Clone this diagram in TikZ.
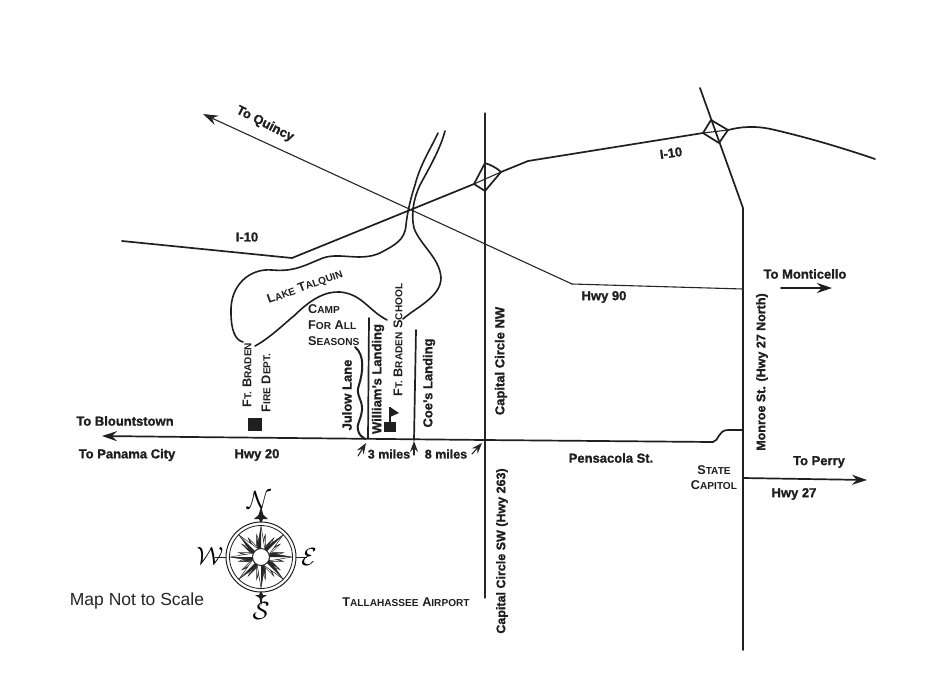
\documentclass[tikz,border=0pt]{standalone}
\usepackage{fontspec}
\setmainfont{Liberation Sans}[FakeBold=1.2]
\newfontfamily\thinfont{Liberation Sans}
\usetikzlibrary{arrows.meta}
\newcommand{\SCap}[2]{{\thinfont\fontsize{12.7}{14}\selectfont #1}{\thinfont\fontsize{10.1}{12}\selectfont #2}}
\tikzset{
  x=1pt,y=-1pt,
  road/.style={draw=black!88,line width=1.7pt,line cap=round,line join=round},
  thinroad/.style={draw=black!85,line width=1.1pt,line cap=round,line join=round},
  water/.style={draw=black!88,line width=1.6pt,line cap=round},
  lab/.style={font=\bfseries\fontsize{13}{14}\selectfont,text=black!88,inner sep=0pt,align=center},
  narrowlab/.style={lab,font=\bfseries\fontsize{12.5}{14}\selectfont},
  tip/.style={-{Stealth[length=15pt,width=10pt,inset=5pt]}},
  small tip/.style={-{Stealth[length=11pt,width=8pt,inset=4pt]}},
  compass letter/.style={font=\fontsize{26}{26}\selectfont,inner sep=0pt}
}
\begin{document}
\begin{tikzpicture}
\useasboundingbox (0,0) rectangle (932,689);
\fill[white] (0,0) rectangle (932,689);
% I-10
\draw[road] (122,241) -- (292,258) -- (474,184);
\draw[road] (501,172) -- (528,161) -- (703,133);
\draw[road] (728,130) .. controls (740,127) and (755,125) .. (775,130) .. controls (805,137) and (840,147) .. (875,159);
% interchanges
\draw[road] (485,163) -- (474,184) -- (485,191) -- (501,172) .. controls (497,168) and (491,165) .. (485,163);
\draw[thinroad] (474,184) -- (501,172);
\draw[road] (703,133) -- (711,120) -- (728,130) -- (719,143) -- cycle;
\draw[thinroad] (703,133) -- (728,130);
% Monroe St
\draw[road] (700,88) -- (743,208) -- (743,650);
% Capital Circle
\draw[thinroad] (485,113) -- (485,598);
% Hwy 90 to Quincy
\draw[thinroad,tip] (572,284) -- (203,114);
\draw[thinroad] (572,284) -- (743,289);
\draw[road,tip] (781,288) -- (832,288);
% Hwy 20
\draw[road,tip] (713,442) -- (485,440) -- (190,437) -- (102,436);
\draw[road] (713,442) .. controls (719,441) and (718,430) .. (728,430) -- (743,430);
% Hwy 27
\draw[road,tip] (743,478) -- (867,480);
% River
\draw[water] (438,133) .. controls (430,150) and (420,165) .. (415,185) .. controls (410,200) and (407,215) .. (406,225) .. controls (405,240) and (395,245) .. (380,253) .. controls (360,262) and (340,252) .. (323,258) .. controls (305,265) and (295,272) .. (272,270) .. controls (250,268) and (230,285) .. (231,312) .. controls (231,330) and (235,340) .. (243,342);
\draw[water] (445,131) .. controls (440,150) and (428,170) .. (420,185) .. controls (413,200) and (411,215) .. (414,228) .. controls (420,245) and (440,258) .. (441,278) .. controls (441,297) and (415,308) .. (403,319);
\draw[water] (255,346) .. controls (270,338) and (285,323) .. (295,315) .. controls (310,300) and (325,291) .. (340,292) .. controls (362,294) and (368,310) .. (387,320);
% side roads
\draw[road,line width=2pt] (355,347) .. controls (365,355) and (363,372) .. (359,385) .. controls (355,395) and (363,400) .. (362,410) .. controls (361,420) and (356,425) .. (358,430) .. controls (359,435) and (362,437) .. (365,439);
\draw[road] (369,318) -- (368,438);
\draw[road] (416,330) -- (414,440);
% small arrows
\draw[thinroad,small tip] (358,456) -- (366,443);
\draw[thinroad,small tip] (414,455) -- (414,441);
\draw[thinroad,small tip] (472,454) -- (482,443);
% buildings
\fill[black!88] (248,418) rectangle (262,431);
\fill[black!88] (384,422) rectangle (396,432);
\draw[black!88,line width=1.5pt] (390,423) -- (390,407);
\fill[black!88] (390,407) -- (399,413) -- (390,417) -- cycle;
% compass
\begin{scope}[shift={(261,557)}]
  \draw[black!88,line width=.9pt] (0,-49) -- (0,47) (-46,0) -- (46,0);
  \fill[black!88] (0,-50) -- (2.5,-42) -- (7,-38) -- (2,-38) -- (0,-33) -- (-2,-38) -- (-7,-38) -- (-2.5,-42) -- cycle;
  \fill[black!88] (0,49) -- (1.5,41) -- (6,38) -- (2,38) -- (0,33) -- (-2,38) -- (-6,38) -- (-1.5,41) -- cycle;
  \fill[white] (0,0) circle (35);
  \draw[black!88,line width=1pt] (0,0) circle (35);
  \draw[black!88,line width=.8pt] (0,0) circle (31.5);
  \foreach \a in {11.25,33.75,...,348.75} {
    \begin{scope}[rotate=\a]
      \draw[black!85,line width=.5pt,fill=white] (8,-3) -- (23,0) -- (8,3) -- cycle;
      \fill[black!85] (8,-3) -- (23,0) -- (8,0) -- cycle;
    \end{scope}
  }
  \foreach \a in {0,45,...,315} {
    \begin{scope}[rotate=\a]
      \draw[black!85,line width=.5pt,fill=white] (7,-4) -- (31,0) -- (7,4) -- cycle;
      \fill[black!85] (7,-4) -- (31,0) -- (7,0) -- cycle;
    \end{scope}
  }
  \draw[black!85,line width=1pt,fill=white] (0,0) circle (8.5);
\end{scope}
\node[compass letter] (cn) at (259,500) {$\mathcal{N}$};
\node[compass letter] (cw) at (210,556) {$\mathcal{W}$};
\node[compass letter] (ce) at (309,557) {$\mathcal{E}$};
\node[compass letter] (cs) at (261,611) {$\mathcal{S}$};
% labels
\node[lab,rotate=-27] (q) at (265,124) {To Quincy};
\node[lab] (i1) at (247,237) {I-10};
\node[lab,rotate=8] (i2) at (671,153) {I-10};
\node[lab] (h90) at (604,297) {Hwy 90};
\node[lab] (mon) at (805,274) {To Monticello};
\node[lab,rotate=20] (lt) at (305,287) {\SCap{L}{AKE} \SCap{T}{ALQUIN}};
\node[lab,rotate=90] (ccn) at (501,361) {Capital Circle NW};
\node[narrowlab,rotate=90] (ccs) at (502,551) {Capital Circle SW (Hwy 263)};
\node[narrowlab,rotate=90] (ms) at (762,372) {Monroe St. (Hwy 27 North)};
\node[lab,rotate=90] (jl) at (347,395) {Julow Lane};
\node[lab,rotate=90] (wl) at (378,379) {William's Landing};
\node[lab,rotate=90] (cl) at (429,383) {Coe's Landing};
\node[lab,rotate=90] (fs) at (398,340) {\SCap{F}{T.} \SCap{B}{RADEN} \SCap{S}{CHOOL}};
\node[lab,rotate=90] (fd1) at (247,375) {\SCap{F}{T.} \SCap{B}{RADEN}};
\node[lab,rotate=90] (fd2) at (266,383) {\SCap{F}{IRE} \SCap{D}{EPT.}};
\node[lab,align=left,anchor=north west] (camp) at (308,304) {\SCap{C}{AMP}\\[2pt]\SCap{F}{OR} \SCap{A}{LL}\\[2pt]\SCap{S}{EASONS}};
\node[lab] (blo) at (125,421) {To Blountstown};
\node[lab] (pc) at (127,455) {To Panama City};
\node[lab] (h20) at (257,455) {Hwy 20};
\node[narrowlab] (m3) at (389,454) {3 miles};
\node[narrowlab] (m8) at (446,454) {8 miles};
\node[lab] (ps) at (611,458) {Pensacola St.};
\node[lab,align=center] (sc) at (714,478) {\SCap{S}{TATE}\\[1pt]\SCap{C}{APITOL}};
\node[lab] (tp) at (819,462) {To Perry};
\node[lab] (h27) at (794,494) {Hwy 27};
\node[lab] (ta) at (406,602) {\SCap{T}{ALLAHASSEE} \SCap{A}{IRPORT}};
\node[inner sep=0pt,font=\thinfont\fontsize{17.5}{19}\selectfont,text=black!85] (ns) at (137,601) {Map Not to Scale};
\end{tikzpicture}
\end{document}
